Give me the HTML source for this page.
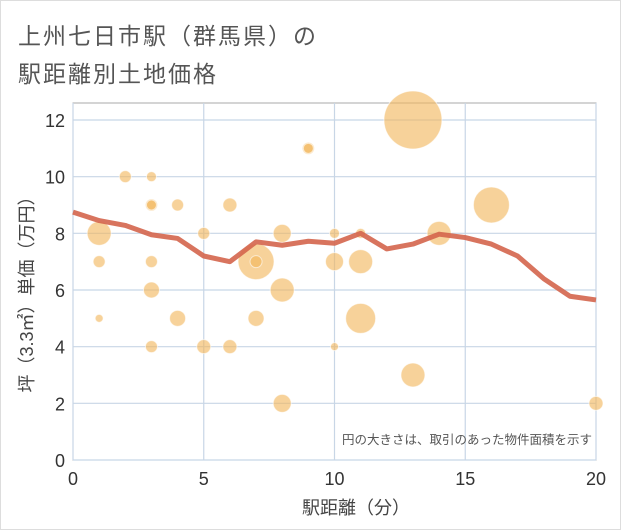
<!DOCTYPE html>
<html><head><meta charset="utf-8"><style>
body{margin:0;background:#fff;}
#wrap{position:relative;width:619px;height:528px;border:1px solid #ddd;background:#fff;font-family:"Liberation Sans","Noto Sans CJK JP",sans-serif;}
.title{position:absolute;left:17px;font-size:23px;color:#555;letter-spacing:2px;}
</style></head><body>
<div id="wrap">
<div class="title" style="top:16px">上州七日市駅（群馬県）の</div>
<div class="title" style="top:54px">駅距離別土地価格</div>
<svg id="chart" width="621" height="530" style="position:absolute;left:-1px;top:-1px"></svg>
</div>
<script>
const xTicks=[0,5,10,15,20];
const yTicks=[0,2,4,6,8,10,12];
const bubbleX=[1,1,1,2,3,3,3,3,3,3,4,4,5,5,6,6,7,7,7,8,8,8,9,9,10,10,10,11,11,11,13,13,14,16,20];
const bubbleY=[8,7,5,10,10,9,9,7,6,4,9,5,8,4,9,4,7,7,5,8,6,2,11,11,8,7,4,8,7,5,12,3,8,9,2];
const bubbleR=[12,6,4,6,5,6,5,6,8,6,6,8,6,7,7,7,18,6,8,9,12,9,6,5,5,9,4,5,12,15,29,12,12,18,7];
const lineX=[0,1,2,3,4,5,6,7,8,9,10,11,12,13,14,15,16,17,18,19,20];
const lineY=[8.75,8.45,8.28,7.95,7.82,7.2,7.0,7.7,7.58,7.72,7.65,8.0,7.45,7.62,7.97,7.85,7.62,7.2,6.4,5.78,5.65];
const L=73,R=596,T=103,B=460;
const sx=v=>L+(v-0)/20*(R-L);
const sy=v=>460-v/12*340;
const svg=document.getElementById('chart');
const NS='http://www.w3.org/2000/svg';
function mk(t,a){const e=document.createElementNS(NS,t);for(const k in a)e.setAttribute(k,a[k]);svg.appendChild(e);return e;}
let e;
e=mk('rect',{x:L,y:T,width:R-L,height:B-T,fill:'#fff',stroke:'#aaa','stroke-width':1});


yTicks.forEach(v=>{
 e=mk('line',{x1:L,x2:R,y1:sy(v),y2:sy(v),stroke:'#c8d6e6','stroke-width':1.2});
 
 
 e=mk('text',{x:L-8,y:sy(v)+7,'text-anchor':'end','font-size':18,fill:'#333'});e.textContent=v;
 
 
});
xTicks.forEach(v=>{
 e=mk('line',{x1:sx(v),x2:sx(v),y1:T,y2:B,stroke:'#c8d6e6','stroke-width':1.2});
 
 
 e=mk('text',{x:sx(v),y:B+25,'text-anchor':'middle','font-size':18,fill:'#333'});e.textContent=v;
 
 
});
bubbleX.forEach((x,i)=>{
 e=mk('circle',{cx:sx(x),cy:sy(bubbleY[i]),r:bubbleR[i],fill:'rgba(242,183,92,0.62)',stroke:'rgba(255,255,255,0.6)','stroke-width':1});
 
 
});
e=mk('polyline',{points:lineX.map((x,i)=>sx(x)+','+sy(lineY[i])).join(' '),fill:'none',stroke:'#d4654d','stroke-width':5,'stroke-opacity':0.9,'stroke-linejoin':'round'});


e=mk('text',{x:592,y:444,'text-anchor':'end','font-size':12.5,fill:'#555'});e.textContent='円の大きさは、取引のあった物件面積を示す';


e=mk('text',{x:356,y:514,'text-anchor':'middle','font-size':18,fill:'#444'});e.textContent='駅距離（分）';


e=mk('text',{x:0,y:0,'text-anchor':'middle','font-size':18,fill:'#444',transform:'translate(33,290) rotate(-90)'});e.textContent='坪（3.3㎡）単価（万円）';


</script>
</body></html>
